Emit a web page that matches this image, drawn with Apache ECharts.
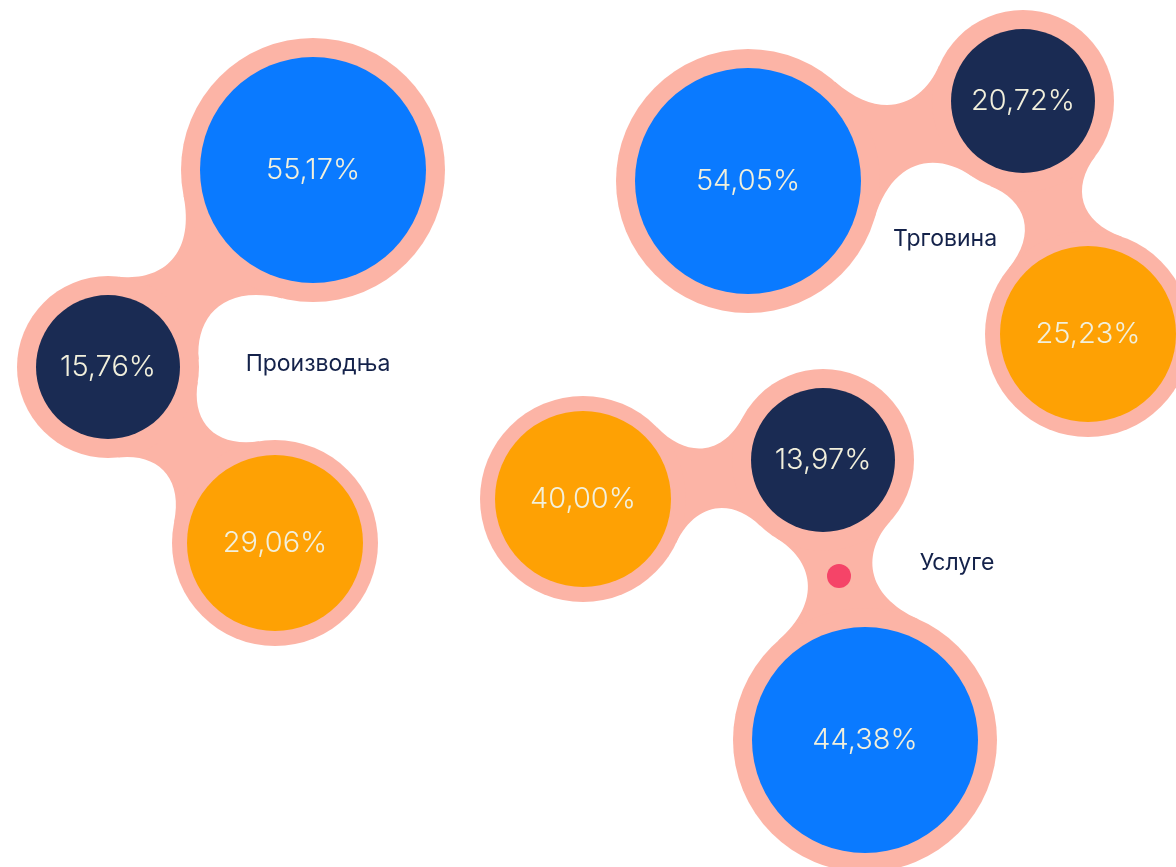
<!DOCTYPE html>
<html>
<head>
<meta charset="utf-8">
<script src="https://cdn.jsdelivr.net/npm/echarts@6/dist/echarts.min.js"></script>
<style>
  html, body { margin: 0; padding: 0; background: #ffffff; }
  #chart { width: 1176px; height: 867px; }
</style>
</head>
<body>
<div id="chart"></div>
<script>
// udeli po sektorima (%)
const groups = ['Производња', 'Трговина', 'Услуге'];
const blueShare = [55.17, 54.05, 44.38];
const navyShare = [15.76, 20.72, 13.97];
const orangeShare = [29.06, 25.23, 40.00];

// raspored mehurica (x 0..1176, y 0..867 odozgo nadole)
const bluePos = [[313, 170], [748, 181], [865, 740]];
const navyPos = [[108, 367], [1023, 101], [823, 460]];
const orangePos = [[275, 543], [1088, 334], [583, 499]];
const groupLabelPos = [[318, 364], [945, 239], [957, 563]];
const dotPos = [[839, 576]];

// poluprecnik po rangu u grupi: najveci, srednji, najmanji
const rankRadius = [113, 88, 72];
const rankHalo = [132, 103, 91];

const SALMON = '#fcb4a6';
const colors = { blue: '#0a7aff', navy: '#1a2b53', orange: '#fea104' };

const shares = { blue: blueShare, navy: navyShare, orange: orangeShare };
const positions = { blue: bluePos, navy: navyPos, orange: orangePos };

function rankOf(key, g) {
  const vals = [blueShare[g], navyShare[g], orangeShare[g]].sort((a, b) => b - a);
  return vals.indexOf(shares[key][g]);
}

function fmt(v) {
  return v.toFixed(2).replace('.', ',') + '%';
}

// spojevi: tamni mehur je centar svake grupe
const links = [];
groups.forEach((g, i) => {
  ['blue', 'orange'].forEach(k => {
    links.push({
      a: navyPos[i], ra: rankHalo[rankOf('navy', i)],
      b: positions[k][i], rb: rankHalo[rankOf(k, i)]
    });
  });
});

function metaballPath(c1, r1, c2, r2, v, handleSize) {
  const d = Math.hypot(c2[0] - c1[0], c2[1] - c1[1]);
  let u1 = 0, u2 = 0;
  if (d < r1 + r2) {
    u1 = Math.acos((r1 * r1 + d * d - r2 * r2) / (2 * r1 * d));
    u2 = Math.acos((r2 * r2 + d * d - r1 * r1) / (2 * r2 * d));
  }
  const ang = Math.atan2(c2[1] - c1[1], c2[0] - c1[0]);
  const maxSpread = Math.acos((r1 - r2) / d);
  const a1 = ang + u1 + (maxSpread - u1) * v;
  const a2 = ang - u1 - (maxSpread - u1) * v;
  const a3 = ang + Math.PI - u2 - (Math.PI - u2 - maxSpread) * v;
  const a4 = ang - Math.PI + u2 + (Math.PI - u2 - maxSpread) * v;
  const pt = (c, a, r) => [c[0] + r * Math.cos(a), c[1] + r * Math.sin(a)];
  const p1 = pt(c1, a1, r1), p2 = pt(c1, a2, r1), p3 = pt(c2, a3, r2), p4 = pt(c2, a4, r2);
  const total = r1 + r2;
  const d2 = Math.min(v * handleSize, Math.hypot(p1[0] - p3[0], p1[1] - p3[1]) / total) * Math.min(1, d * 2 / total);
  const h1 = pt(p1, a1 - Math.PI / 2, r1 * d2);
  const h2 = pt(p2, a2 + Math.PI / 2, r1 * d2);
  const h3 = pt(p3, a3 + Math.PI / 2, r2 * d2);
  const h4 = pt(p4, a4 - Math.PI / 2, r2 * d2);
  const s = p => p[0].toFixed(2) + ' ' + p[1].toFixed(2);
  return 'M' + s(p1) + ' C' + s(h1) + ' ' + s(h3) + ' ' + s(p3) +
    ' L' + s(p4) + ' C' + s(h4) + ' ' + s(h2) + ' ' + s(p2) + ' Z';
}

const chart = echarts.init(document.getElementById('chart'));

const valueFont = {
  show: true,
  position: 'inside',
  fontFamily: 'Inter',
  fontWeight: 300,
  fontSize: 29,
  color: '#f2f0dc',
  formatter: p => fmt(p.data.share)
};

function bubbleSeries(key) {
  return {
    type: 'scatter',
    name: key,
    z: 4,
    symbol: 'circle',
    data: groups.map((g, i) => ({
      value: positions[key][i],
      share: shares[key][i],
      symbolSize: rankRadius[rankOf(key, i)] * 2
    })),
    itemStyle: { color: colors[key], opacity: 1 },
    label: valueFont,
    emphasis: { disabled: true },
    silent: true
  };
}

const haloData = [];
['blue', 'navy', 'orange'].forEach(k => {
  groups.forEach((g, i) => {
    haloData.push({ value: positions[k][i], symbolSize: rankHalo[rankOf(k, i)] * 2 });
  });
});

const option = {
  animation: false,
  backgroundColor: '#ffffff',
  grid: { left: 0, right: 0, top: 0, bottom: 0 },
  xAxis: { type: 'value', min: 0, max: 1176, show: false },
  yAxis: { type: 'value', min: 0, max: 867, inverse: true, show: false },
  series: [
    {
      type: 'custom',
      name: 'bridges',
      z: 1,
      silent: true,
      data: links.map((l, i) => [l.a[0], l.a[1], l.b[0], l.b[1], i]),
      renderItem: function (params, api) {
        const l = links[params.dataIndex];
        const c1 = api.coord(l.a);
        const c2 = api.coord(l.b);
        return {
          type: 'path',
          shape: { pathData: metaballPath(c1, l.ra, c2, l.rb, 0.4, 2.4) },
          style: { fill: SALMON }
        };
      }
    },
    {
      type: 'scatter',
      name: 'halo',
      z: 2,
      silent: true,
      symbol: 'circle',
      data: haloData,
      itemStyle: { color: SALMON, opacity: 1 }
    },
    bubbleSeries('blue'),
    bubbleSeries('navy'),
    bubbleSeries('orange'),
    {
      type: 'scatter',
      name: 'dot',
      z: 5,
      silent: true,
      symbolSize: 24,
      data: dotPos,
      itemStyle: { color: '#f54468', opacity: 1 }
    },
    {
      type: 'scatter',
      name: 'groupLabels',
      z: 5,
      silent: true,
      symbolSize: 0,
      itemStyle: { color: '#ffffff' },
      data: groups.map((g, i) => ({ value: groupLabelPos[i], name: g })),
      label: {
        show: true,
        position: 'inside',
        formatter: p => p.name,
        fontFamily: 'Inter',
        fontWeight: 400,
        fontSize: 23,
        color: '#14224a',
        opacity: 1
      }
    }
  ]
};

chart.setOption(option);
</script>
</body>
</html>
